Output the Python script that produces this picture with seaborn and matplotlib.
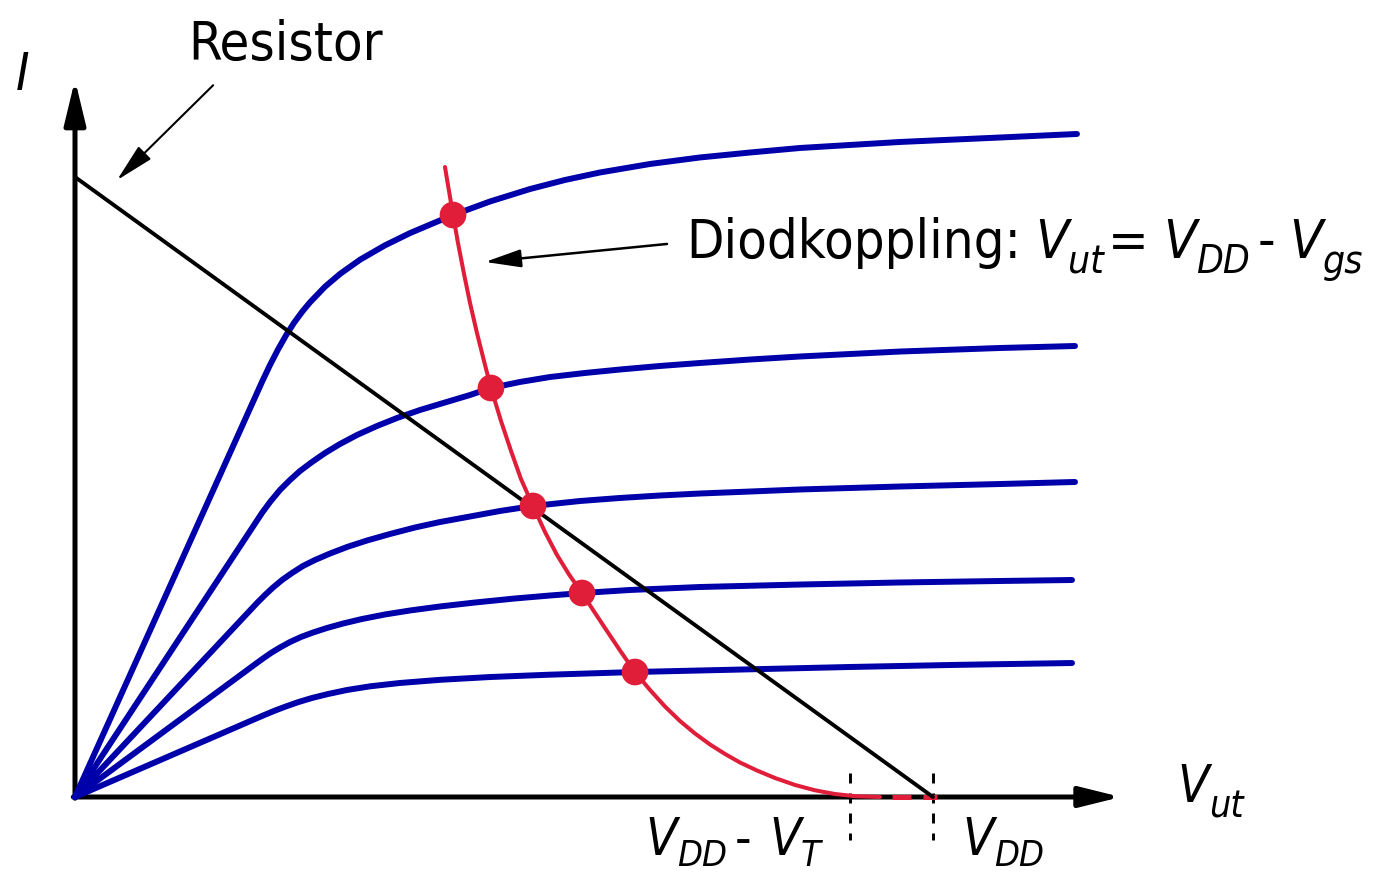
import os
import numpy as np
import pandas as pd
import matplotlib
matplotlib.use("Agg")
import matplotlib.pyplot as plt
from matplotlib import font_manager as fm
import seaborn as sns

# ---------------------------------------------------------------------------
# Data: V_ut normalised to V_DD, I normalised to the resistor's V_DD/R current
# ---------------------------------------------------------------------------
v_dd = 1.0
v_dd_minus_vt = 0.903
i_resistor_max = 1.0

# transistor output characteristics, one curve per gate voltage (top = largest V_gs)
curve1_v = [0.0, 0.2179, 0.2273, 0.2366, 0.2459, 0.2552, 0.2646, 0.2739, 0.2914, 0.3089, 0.3322,
            0.3613, 0.3904, 0.4196, 0.4406, 0.4837, 0.5303, 0.5711, 0.6119, 0.6702, 0.7284,
            0.7867, 0.8450, 0.9615, 1.0781, 1.1678]
curve1_i = [0.0, 0.6694, 0.6968, 0.7218, 0.7445, 0.7647, 0.7824, 0.7979, 0.8231, 0.8437, 0.8666,
            0.8898, 0.9095, 0.9266, 0.9387, 0.9605, 0.9806, 0.9952, 1.0073, 1.0210, 1.0315,
            1.0395, 1.0468, 1.0565, 1.0637, 1.0694]

curve2_v = [0.0, 0.2179, 0.2273, 0.2389, 0.2506, 0.2622, 0.2762, 0.2914, 0.3089, 0.3287, 0.3520,
            0.3753, 0.4021, 0.4312, 0.4604, 0.4848, 0.5186, 0.5536, 0.5944, 0.6352, 0.6818,
            0.7284, 0.7867, 0.8450, 0.9615, 1.0781, 1.1655]
curve2_i = [0.0, 0.4581, 0.4758, 0.4952, 0.5113, 0.5258, 0.5403, 0.5548, 0.5694, 0.5839, 0.5984,
            0.6113, 0.6242, 0.6363, 0.6484, 0.6597, 0.6694, 0.6774, 0.6839, 0.6895, 0.6952,
            0.7000, 0.7056, 0.7105, 0.7185, 0.7242, 0.7274]

curve3_v = [0.0, 0.2121, 0.2214, 0.2308, 0.2413, 0.2529, 0.2657, 0.2797, 0.2972, 0.3170, 0.3403,
            0.3671, 0.3963, 0.4254, 0.4604, 0.4953, 0.5338, 0.5886, 0.6352, 0.6818, 0.7284,
            0.7867, 0.8450, 0.9615, 1.0781, 1.1655]
curve3_i = [0.0, 0.3129, 0.3258, 0.3379, 0.3500, 0.3613, 0.3726, 0.3823, 0.3927, 0.4032, 0.4137,
            0.4242, 0.4347, 0.4435, 0.4524, 0.4613, 0.4694, 0.4774, 0.4823, 0.4863, 0.4895,
            0.4927, 0.4960, 0.5008, 0.5048, 0.5081]

curve4_v = [0.0, 0.2098, 0.2191, 0.2284, 0.2389, 0.2506, 0.2634, 0.2774, 0.2937, 0.3124, 0.3345,
            0.3613, 0.3904, 0.4254, 0.4662, 0.5128, 0.5536, 0.5909, 0.6469, 0.7284, 0.8450,
            0.9615, 1.0781, 1.1620]
curve4_i = [0.0, 0.2140, 0.2234, 0.2323, 0.2411, 0.2500, 0.2581, 0.2653, 0.2726, 0.2798, 0.2871,
            0.2944, 0.3008, 0.3073, 0.3137, 0.3202, 0.3250, 0.3290, 0.3339, 0.3387, 0.3427,
            0.3460, 0.3484, 0.3500]

curve5_v = [0.0, 0.2098, 0.2214, 0.2331, 0.2459, 0.2599, 0.2762, 0.2949, 0.3170, 0.3438, 0.3788,
            0.4254, 0.4837, 0.5536, 0.6527, 0.7517, 0.9033, 1.0315, 1.1620]
curve5_i = [0.0, 0.1258, 0.1327, 0.1394, 0.1461, 0.1529, 0.1597, 0.1661, 0.1726, 0.1785, 0.1839,
            0.1890, 0.1935, 0.1973, 0.2016, 0.2048, 0.2097, 0.2132, 0.2161]

# diode-connected load: V_ut = V_DD - V_gs
diode_v = [0.4312, 0.4359, 0.4406, 0.4464, 0.4534, 0.4604, 0.4685, 0.4767, 0.4848, 0.4965,
           0.5082, 0.5198, 0.5338, 0.5478, 0.5618, 0.5758, 0.5909, 0.6061, 0.6212, 0.6364,
           0.6527, 0.6702, 0.6876, 0.7051, 0.7226, 0.7401, 0.7576, 0.7751, 0.7949, 0.8159,
           0.8392, 0.8625, 0.8858, 0.9091, 0.9382]
diode_i = [1.0161, 0.9774, 0.9387, 0.8935, 0.8435, 0.7968, 0.7484, 0.7032, 0.6597, 0.6065,
           0.5581, 0.5129, 0.4694, 0.4274, 0.3903, 0.3589, 0.3290, 0.2968, 0.2653, 0.2339,
           0.2016, 0.1726, 0.1460, 0.1226, 0.1024, 0.0847, 0.0694, 0.0556, 0.0427, 0.0306,
           0.0194, 0.0108, 0.0048, 0.0013, 0.0]
diode_tail_v = [0.952, 1.005]
diode_tail_i = [0.0, 0.0]

# operating points of the diode load on each characteristic
op_v = [0.4406, 0.4848, 0.5338, 0.5909, 0.6527]
op_i = [0.9387, 0.6597, 0.4694, 0.3290, 0.2016]

# resistor load line
res_v = [0.0, v_dd]
res_i = [i_resistor_max, 0.0]

BLUE = "#0000AA"
RED = "#E01E3A"
BLACK = "#000000"

# ---------------------------------------------------------------------------
# Fonts: a condensed sans for the labels
# ---------------------------------------------------------------------------
def font_file(candidates):
    files = {os.path.basename(f).lower(): f for f in fm.findSystemFonts()}
    for c in candidates:
        if c.lower() in files:
            return files[c.lower()]
    return None


REG_FILE = font_file(["LiberationSansNarrow-Regular.ttf", "DejaVuSansCondensed.ttf"])
IT_FILE = font_file(["LiberationSansNarrow-Italic.ttf", "DejaVuSansCondensed-Oblique.ttf"])


def font(italic, size):
    f = IT_FILE if italic else REG_FILE
    if f:
        scale = 1.12 if "narrow" in f.lower() else 1.0
        return fm.FontProperties(fname=f, size=size * scale)
    return fm.FontProperties(family="Liberation Sans",
                             style="italic" if italic else "normal",
                             size=size * 0.95)


# ---------------------------------------------------------------------------
# Figure
# ---------------------------------------------------------------------------
sns.set_theme(style="white")
plt.rcParams["lines.scale_dashes"] = False

W, H, DPI = 1379, 877, 100
fig = plt.figure(figsize=(W / DPI, H / DPI), dpi=DPI)
ax = fig.add_axes([0, 0, 1, 1])

# data limits chosen so the origin sits in the lower left with room for labels
ax.set_xlim(-75 / 858, (W - 75) / 858)
ax.set_ylim((797 - H) / 620, 797 / 620)
ax.axis("off")

# axes with arrow heads
ax.annotate("", xy=(0, 1.157), xytext=(0, -0.002),
            arrowprops=dict(arrowstyle="-|>,head_length=27,head_width=6.5",
                            mutation_scale=1, lw=3.6, color=BLACK,
                            shrinkA=0, shrinkB=0), zorder=1)
ax.annotate("", xy=(1.219, 0), xytext=(-0.002, 0),
            arrowprops=dict(arrowstyle="-|>,head_length=25,head_width=6.2",
                            mutation_scale=1, lw=3.6, color=BLACK,
                            shrinkA=0, shrinkB=0), zorder=1)

# transistor characteristics
frames = []
for k, (v, i) in enumerate([(curve1_v, curve1_i), (curve2_v, curve2_i), (curve3_v, curve3_i),
                            (curve4_v, curve4_i), (curve5_v, curve5_i)]):
    frames.append(pd.DataFrame({"V": v, "I": i, "curve": f"Vgs{k}"}))
curves = pd.concat(frames, ignore_index=True)
sns.lineplot(data=curves, x="V", y="I", hue="curve", units="curve", estimator=None,
             sort=False, palette={c: BLUE for c in curves["curve"].unique()},
             lw=4.3, legend=False, ax=ax, zorder=2)
for line in ax.get_lines():
    line.set_solid_joinstyle("round")

# diode-connected load curve
sns.lineplot(x=diode_v, y=diode_i, sort=False, estimator=None, color=RED, lw=2.9,
             ax=ax, zorder=3)
ax.plot(diode_tail_v, diode_tail_i, color=RED, lw=3.6,
        linestyle=(0, (13.7, 8.6)), dash_capstyle="butt", zorder=3)

# resistor load line
sns.lineplot(x=res_v, y=res_i, sort=False, estimator=None, color=BLACK, lw=2.8,
             ax=ax, zorder=4)

# operating points
sns.scatterplot(x=op_v, y=op_i, s=370, color=RED, edgecolor="none", ax=ax, zorder=5)

# V_DD - V_T and V_DD markers
for xv in (v_dd_minus_vt, v_dd):
    ax.plot([xv, xv], [0.039, -0.069], color=BLACK, lw=2.1,
            linestyle=(0, (7.2, 7.2)), dash_capstyle="butt", zorder=1)

# pointer arrows
ax.annotate("", xy=(0.049, 0.995), xytext=(0.161, 1.148),
            arrowprops=dict(arrowstyle="-|>,head_length=24,head_width=5.5",
                            mutation_scale=1, lw=1.5, color=BLACK,
                            shrinkA=0, shrinkB=0), zorder=6)
ax.annotate("", xy=(0.478, 0.863), xytext=(0.690, 0.892),
            arrowprops=dict(arrowstyle="-|>,head_length=22,head_width=5.5",
                            mutation_scale=1, lw=1.8, color=BLACK,
                            shrinkA=0, shrinkB=0), zorder=6)

# ---------------------------------------------------------------------------
# Labels: pieces are laid out left to right from a starting pixel position
# (x from the left edge, baseline y from the top edge of the figure)
# ---------------------------------------------------------------------------
renderer = fig.canvas.get_renderer()


def label_run(x0, pieces):
    x = x0
    for s, y, size, italic, gap in pieces:
        t = fig.text((x + gap) / W, 1 - y / H, s, ha="left", va="baseline",
                     fontproperties=font(italic, size), color=BLACK)
        x = t.get_window_extent(renderer).x1


label_run(16, [("I", 90, 37, True, 0)])
label_run(188, [("Resistor", 60, 39, False, 0)])

label_run(686, [("Diodkoppling:", 258, 39, False, 0),
                ("V", 258, 39, True, 14),
                ("ut", 273, 28, True, 0),
                ("=", 258, 39, False, 4),
                ("V", 258, 39, True, 14),
                ("DD", 273, 28, True, 0),
                ("-", 258, 39, False, 8),
                ("V", 258, 39, True, 14),
                ("gs", 273, 28, True, 0)])

label_run(1177, [("V", 802, 37, True, 0),
                 ("ut", 817, 27, True, 0)])

label_run(645, [("V", 855, 37, True, 0),
                ("DD", 866, 26, True, 0),
                ("-", 855, 37, False, 8),
                ("V", 855, 37, True, 18),
                ("T", 866, 26, True, 0)])

label_run(962, [("V", 855, 37, True, 0),
                ("DD", 866, 26, True, 0)])

fig.savefig("out.png", dpi=DPI, facecolor="white")
